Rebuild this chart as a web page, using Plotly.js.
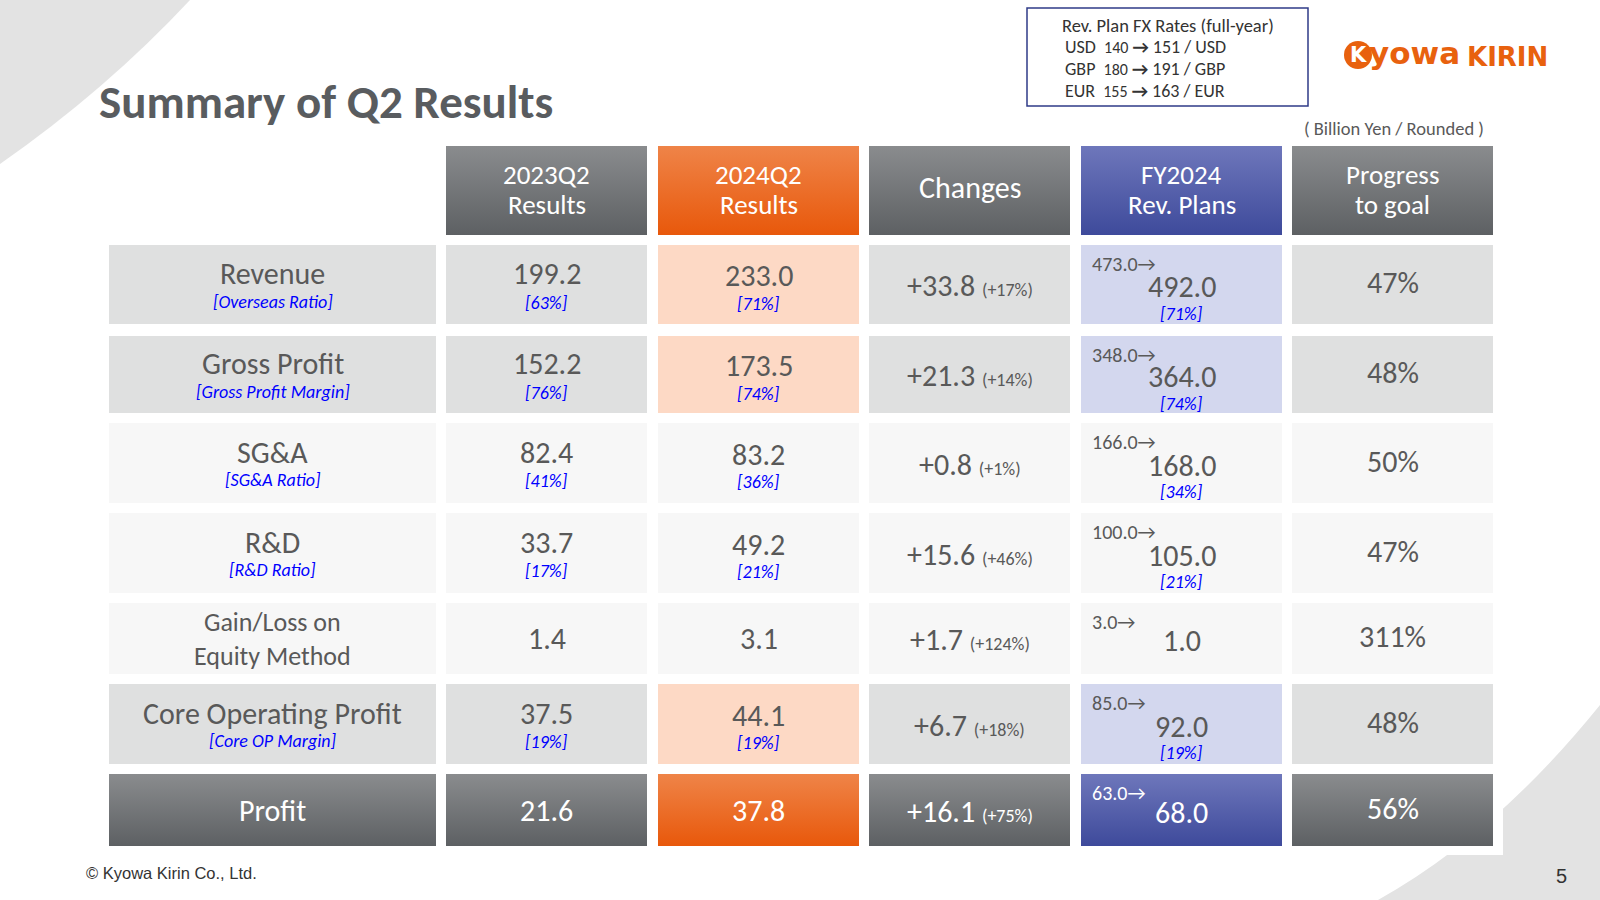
<!DOCTYPE html>
<html>
<head>
<meta charset="utf-8">
<script src="https://cdn.plot.ly/plotly-3.0.1.min.js"></script>
<style>html,body{margin:0;padding:0;background:#fff;}#chart{width:1600px;height:900px;}</style>
</head>
<body>
<div id="chart"></div>
<script>
// ---------------- DATA ----------------
const headers = ['2023Q2<br>Results', '2024Q2<br>Results', 'Changes', 'FY2024<br>Rev. Plans', 'Progress<br>to goal'];
const rowLabels = ['Revenue', 'Gross Profit', 'SG&A', 'R&D', 'Gain/Loss on<br>Equity Method', 'Core Operating Profit', 'Profit'];
const ratioLabels = ['[Overseas Ratio]', '[Gross Profit Margin]', '[SG&A Ratio]', '[R&D Ratio]', '', '[Core OP Margin]', ''];
const results2023Q2 = [199.2, 152.2, 82.4, 33.7, 1.4, 37.5, 21.6];
const ratio2023Q2 = [63, 76, 41, 17, null, 19, null];
const results2024Q2 = [233.0, 173.5, 83.2, 49.2, 3.1, 44.1, 37.8];
const ratio2024Q2 = [71, 74, 36, 21, null, 19, null];
const changes = [33.8, 21.3, 0.8, 15.6, 1.7, 6.7, 16.1];
const changesPct = [17, 14, 1, 46, 124, 18, 75];
const planPrevious = [473.0, 348.0, 166.0, 100.0, 3.0, 85.0, 63.0];
const planRevised = [492.0, 364.0, 168.0, 105.0, 1.0, 92.0, 68.0];
const planRatio = [71, 74, 34, 21, null, 19, null];
const progressToGoal = [47, 48, 50, 47, 311, 48, 56];
const fxCurrencies = ['USD', 'GBP', 'EUR'];
const fxPrevious = [140, 180, 155];
const fxRevised = [151, 191, 163];

// ---------------- LAYOUT / STYLE ----------------
const FONT = 'Carlito, Lato, "Open Sans", sans-serif';
const TXT = '#595959';
const BLUE = '#0000ff';
const MAIN = 30, SUB = 18, SMALL = 20, HEAD = 27;
const colEdges = [[109, 436], [446, 647], [658, 859], [869, 1070], [1081, 1282], [1292, 1493]];
const headerEdge = [146, 235];
const rowEdges = [[245, 324], [336, 413], [423, 503], [513, 593], [603, 674], [684, 764], [774, 846]];
const rowKind = ['emph', 'emph', 'light', 'light', 'light', 'emph', 'total'];
const GRAD = {
  grey: ['#8a8c8e', '#5d6063'],
  orange: ['#ef8448', '#e8580b'],
  blue: ['#6e77bb', '#3e4a9b']
};
const headerGrad = ['grey', 'orange', 'grey', 'blue', 'grey'];
const totalGrad = ['grey', 'grey', 'orange', 'grey', 'blue', 'grey'];
const emphFill = ['#dfe0e0', '#dfe0e0', '#fdd9c5', '#dfe0e0', '#d3d7ee', '#dfe0e0'];
const lightFill = '#f7f7f7';

const traces = [];
function cell(xe, ye, fill, grad) {
  const t = {
    type: 'scatter', mode: 'none', fill: 'toself', hoverinfo: 'skip',
    x: [xe[0], xe[1], xe[1], xe[0], xe[0]],
    y: [ye[0], ye[0], ye[1], ye[1], ye[0]]
  };
  if (grad) {
    t.fillcolor = GRAD[grad][1];
    t.fillgradient = { type: 'vertical', start: ye[0], stop: ye[1], colorscale: [[0, GRAD[grad][0]], [1, GRAD[grad][1]]] };
  } else {
    t.fillcolor = fill;
  }
  traces.push(t);
}

const ann = [];
function txt(x, y, text, size, color, opts) {
  ann.push(Object.assign({
    xref: 'x', yref: 'y', x: x, y: y, text: text, showarrow: false,
    xanchor: 'center', yanchor: 'middle',
    font: { family: FONT, size: size, color: color }
  }, opts || {}));
}
const cx = i => (colEdges[i][0] + colEdges[i][1]) / 2;
const pct = v => '[' + v + '%]';

// header cells
headers.forEach((h, j) => {
  cell(colEdges[j + 1], headerEdge, null, headerGrad[j]);
  const lines = h.split('<br>');
  const cy = (headerEdge[0] + headerEdge[1]) / 2;
  if (lines.length === 1) txt(cx(j + 1), cy - 3, lines[0], MAIN, '#fff');
  else { txt(cx(j + 1), cy - 16, lines[0], HEAD, '#fff'); txt(cx(j + 1), cy + 14, lines[1], HEAD, '#fff'); }
});

// body
rowLabels.forEach((lab, i) => {
  const ye = rowEdges[i];
  const cy = (ye[0] + ye[1]) / 2;
  const kind = rowKind[i];
  for (let c = 0; c < 6; c++) {
    if (kind === 'total') cell(colEdges[c], ye, null, totalGrad[c]);
    else if (kind === 'emph') cell(colEdges[c], ye, emphFill[c]);
    else cell(colEdges[c], ye, lightFill);
  }
  const col = kind === 'total' ? '#ffffff' : TXT;
  const hasSub = ratioLabels[i] !== '';
  // label column
  if (lab.indexOf('<br>') >= 0) {
    txt(cx(0), cy, lab, 26, col);
  } else if (hasSub) {
    txt(cx(0), cy - 11, lab, MAIN, col);
    txt(cx(0), cy + 17, '<i>' + ratioLabels[i] + '</i>', SUB, BLUE);
  } else {
    txt(cx(0), cy, lab, MAIN, col);
  }
  // 2023Q2
  if (ratio2023Q2[i] !== null) {
    txt(cx(1), cy - 11, results2023Q2[i].toFixed(1), MAIN, col);
    txt(cx(1), cy + 18, '<i>' + pct(ratio2023Q2[i]) + '</i>', SUB, BLUE);
  } else txt(cx(1), cy, results2023Q2[i].toFixed(1), MAIN, col);
  // 2024Q2
  if (ratio2024Q2[i] !== null) {
    txt(cx(2), cy - 9, results2024Q2[i].toFixed(1), MAIN, col);
    txt(cx(2), cy + 19, '<i>' + pct(ratio2024Q2[i]) + '</i>', SUB, BLUE);
  } else txt(cx(2), cy, results2024Q2[i].toFixed(1), MAIN, col);
  // changes
  txt(cx(3), cy + 1, '+' + changes[i].toFixed(1) + ' <span style="font-size:' + SUB + 'px">(+' + changesPct[i] + '%)</span>', MAIN, col);
  // plan
  txt(colEdges[4][0] + 9, ye[0] + 19, planPrevious[i].toFixed(1) + '→', SMALL, col, { xanchor: 'left' });
  if (planRatio[i] !== null) {
    txt(cx(4), cy + 2, planRevised[i].toFixed(1), MAIN, col);
    txt(cx(4), cy + 29, '<i>' + pct(planRatio[i]) + '</i>', SUB, BLUE);
  } else txt(cx(4), cy + 2, planRevised[i].toFixed(1), MAIN, col);
  // progress
  txt(cx(5), cy - 2, progressToGoal[i] + '%', MAIN, col);
});

// titles & misc text
txt(97, 102, '<b>Summary of Q2 Results</b>', 47, '#595c5f', { xanchor: 'left' });
txt(1486, 128, '( Billion Yen / Rounded )', 18.5, TXT, { xanchor: 'right' });
txt(84, 873, '© Kyowa Kirin Co., Ltd.', 16.5, '#333333', { xanchor: 'left', font: { family: 'Liberation Sans, Arial, sans-serif', size: 16.5, color: '#333333' } });
txt(1561, 876, '5', 20, '#333333', { font: { family: 'Liberation Sans, Arial, sans-serif', size: 20, color: '#333333' } });

// FX box text
txt(1168, 25, 'Rev. Plan FX Rates (full-year)', 18.5, '#333333');
fxCurrencies.forEach((cur, k) => {
  txt(1063, 47 + k * 22, cur + '\u00a0 <span style="font-size:16px">' + fxPrevious[k] + '</span> <b>→</b> ' + fxRevised[k] + ' / ' + cur, 18, '#333333', { xanchor: 'left' });
});

// logo
const ORG = '#e8610e';
txt(1358, 55, '<b>K</b>', 21, '#ffffff', { font: { family: 'DejaVu Sans, sans-serif', size: 21, color: '#ffffff' } });
txt(1367, 53, '<b>yowa</b>', 31, ORG, { xanchor: 'left', font: { family: 'DejaVu Sans, sans-serif', size: 31, color: ORG } });
txt(1465, 57, '<b>KIRIN</b>', 26, ORG, { xanchor: 'left', font: { family: 'DejaVu Sans, sans-serif', size: 26, color: ORG } });

const shapes = [
  { type: 'path', xref: 'x', yref: 'y', layer: 'below', path: 'M 0 0 L 190 0 Q 106 90 0 164 Z', fillcolor: '#e3e3e3', line: { width: 0 } },
  { type: 'path', xref: 'x', yref: 'y', layer: 'below', path: 'M 1600 705 Q 1495 835 1378 900 L 1600 900 Z', fillcolor: '#e3e3e3', line: { width: 0 } },
  { type: 'rect', xref: 'x', yref: 'y', layer: 'below', x0: 100, x1: 1503, y0: 138, y1: 855, fillcolor: '#ffffff', line: { width: 0 } },
  { type: 'rect', xref: 'x', yref: 'y', layer: 'below', x0: 1027, x1: 1308, y0: 8, y1: 106, fillcolor: '#ffffff', line: { width: 1.5, color: '#2f3b88' } },
  { type: 'circle', xref: 'x', yref: 'y', layer: 'below', x0: 1344, x1: 1372, y0: 41, y1: 69, fillcolor: ORG, line: { width: 0 } }
];

const layout = {
  width: 1600, height: 900,
  margin: { l: 0, r: 0, t: 0, b: 0 },
  paper_bgcolor: '#ffffff', plot_bgcolor: '#ffffff',
  showlegend: false,
  xaxis: { range: [0, 1600], visible: false, fixedrange: true },
  yaxis: { range: [900, 0], visible: false, fixedrange: true },
  shapes: shapes,
  annotations: ann
};
Plotly.newPlot('chart', traces, layout, { displayModeBar: false, staticPlot: true });
</script>
</body>
</html>
